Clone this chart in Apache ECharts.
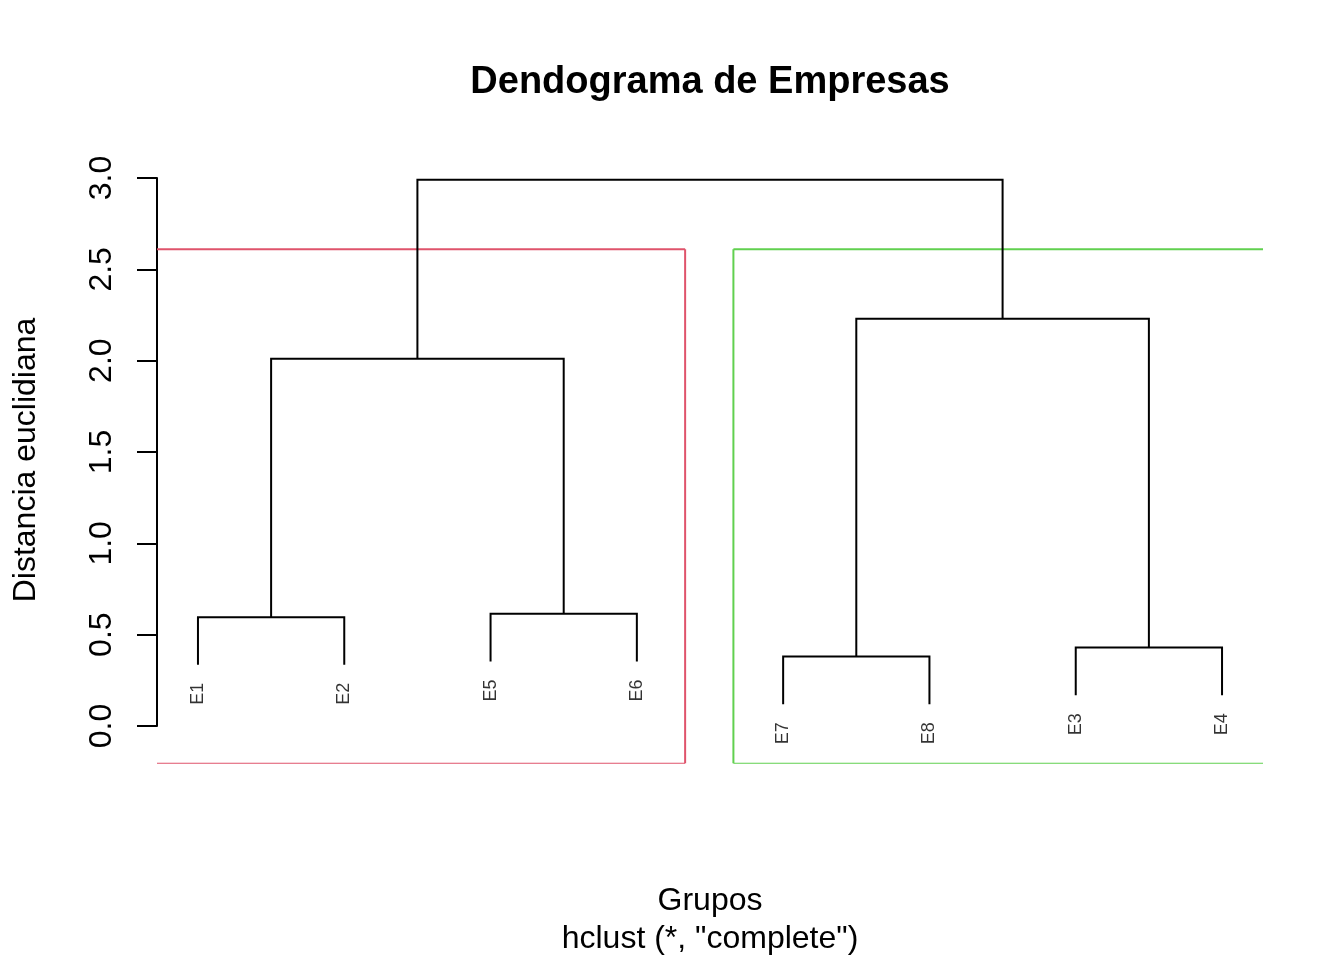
<!DOCTYPE html>
<html><head><meta charset="utf-8">
<script src="https://cdn.jsdelivr.net/npm/echarts@6/dist/echarts.min.js"></script>
<style>html,body{margin:0;padding:0;background:#fff}#c{width:1344px;height:960px}</style>
</head><body><div id="c"></div>
<script>
// ---- data ----
const leafLabels = ["E1", "E2", "E5", "E6", "E7", "E8", "E3", "E4"];
// R-style merge table: negative = leaf position (1-based in leafLabels), positive = earlier merge step
const mergeLeft = [-5, -7, -1, -3, 3, 1, 5];
const mergeRight = [-6, -8, -2, -4, 4, 2, 6];
const mergeHeight = [0.38, 0.43, 0.596, 0.614, 2.01, 2.229, 2.99];
const yTicks = [0, 0.5, 1, 1.5, 2, 2.5, 3];
const clusterK = 2;
const clusterColors = ["#DF536B", "#61D04F"];
const plotFloor = -0.204;   // lower bound of the plotting region (rect bottoms)

const FONT = '"Liberation Sans", Arial, Helvetica, sans-serif';
const xMin = 0.72, xMax = 8.28;

// ---- build dendrogram geometry from the merge table ----
const hang = 0.1 * (Math.max(...mergeHeight) - Math.min(...mergeHeight));
const nodeX = [], nodeLeaves = [];
const segs = [], leafPts = [];
function child(c, h) {
  if (c < 0) {
    const x = -c;
    leafPts.push([x, h - hang, leafLabels[x - 1]]);
    return { x: x, y: h - hang, leaves: [x] };
  }
  return { x: nodeX[c - 1], y: mergeHeight[c - 1], leaves: nodeLeaves[c - 1] };
}
for (let i = 0; i < mergeHeight.length; i++) {
  const h = mergeHeight[i];
  const a = child(mergeLeft[i], h), b = child(mergeRight[i], h);
  nodeX[i] = (a.x + b.x) / 2;
  nodeLeaves[i] = a.leaves.concat(b.leaves);
  segs.push({ coords: [[a.x, a.y], [a.x, h], [b.x, h], [b.x, b.y]] });
}

// ---- cluster rectangles (rect.hclust style) ----
const nMerge = mergeHeight.length;
const rectTop = (mergeHeight[nMerge - clusterK] + mergeHeight[nMerge - clusterK + 1]) / 2;
const rootIdx = nMerge - 1;
function leavesOf(c) { return c < 0 ? [-c] : nodeLeaves[c - 1]; }
const groups = [leavesOf(mergeLeft[rootIdx]), leavesOf(mergeRight[rootIdx])];
const rectEdges = [];
groups.forEach((lv, gi) => {
  const color = clusterColors[gi];
  let L = Math.min(...lv) - 0.34, R = Math.max(...lv) + 0.33;
  const clipL = L < xMin, clipR = R > xMax;
  L = Math.max(L, xMin); R = Math.min(R, xMax);
  const ls = { color: color, width: 2, opacity: 1 };
  const lsThin = { color: color, width: 1.2, opacity: 1 };
  rectEdges.push({ coords: [[L, rectTop], [R, rectTop]], lineStyle: ls });
  rectEdges.push({ coords: [[L, plotFloor], [R, plotFloor]], lineStyle: lsThin });
  if (!clipL) rectEdges.push({ coords: [[L, plotFloor], [L, rectTop]], lineStyle: ls });
  if (!clipR) rectEdges.push({ coords: [[R, plotFloor], [R, rectTop]], lineStyle: ls });
});

const chart = echarts.init(document.getElementById('c'), null, { renderer: 'canvas' });
chart.setOption({
  animation: false,
  backgroundColor: '#ffffff',
  textStyle: { fontFamily: FONT, color: '#000' },
  grid: { left: 157, top: 178, width: 1106, height: 548, containLabel: false },
  xAxis: { type: 'value', min: xMin, max: xMax, show: false },
  yAxis: {
    type: 'value', min: yTicks[0], max: yTicks[yTicks.length - 1], interval: 0.5,
    axisLine: { show: true, lineStyle: { color: '#000', width: 2 } },
    axisTick: { show: true, length: 20, lineStyle: { color: '#000', width: 2 } },
    splitLine: { show: false },
    axisLabel: {
      rotate: 90, margin: 39, fontSize: 32, color: '#000', fontFamily: FONT,
      formatter: v => v.toFixed(1)
    }
  },
  series: [
    {
      type: 'lines', coordinateSystem: 'cartesian2d', polyline: true, silent: true, clip: false,
      lineStyle: { color: '#000', width: 2, opacity: 1 },
      data: segs, z: 3
    },
    {
      type: 'lines', coordinateSystem: 'cartesian2d', polyline: true, silent: true, clip: false,
      data: rectEdges, z: 2
    },
    {
      type: 'scatter', symbolSize: 0, silent: true, clip: false,
      data: leafPts,
      label: {
        show: true, formatter: p => p.value[2], position: 'bottom', distance: 18,
        rotate: 90, align: 'right', verticalAlign: 'middle',
        fontSize: 18, color: '#000', fontFamily: FONT
      }
    }
  ],
  graphic: [
    { type: 'text', x: 710, y: 83, silent: true,
      style: { text: 'Dendograma de Empresas', font: 'bold 38px ' + FONT, fill: '#000',
        align: 'center', verticalAlign: 'middle', textAlign: 'center', textVerticalAlign: 'middle' } },
    { type: 'text', x: 710, y: 901, silent: true,
      style: { text: 'Grupos', font: '32px ' + FONT, fill: '#000',
        align: 'center', verticalAlign: 'middle', textAlign: 'center', textVerticalAlign: 'middle' } },
    { type: 'text', x: 710, y: 939, silent: true,
      style: { text: 'hclust (*, "complete")', font: '32px ' + FONT, fill: '#000',
        align: 'center', verticalAlign: 'middle', textAlign: 'center', textVerticalAlign: 'middle' } },
    { type: 'text', x: 26, y: 460, rotation: Math.PI / 2, silent: true,
      style: { text: 'Distancia euclidiana', font: '32px ' + FONT, fill: '#000',
        align: 'center', verticalAlign: 'middle', textAlign: 'center', textVerticalAlign: 'middle' } }
  ]
});
</script></body></html>
